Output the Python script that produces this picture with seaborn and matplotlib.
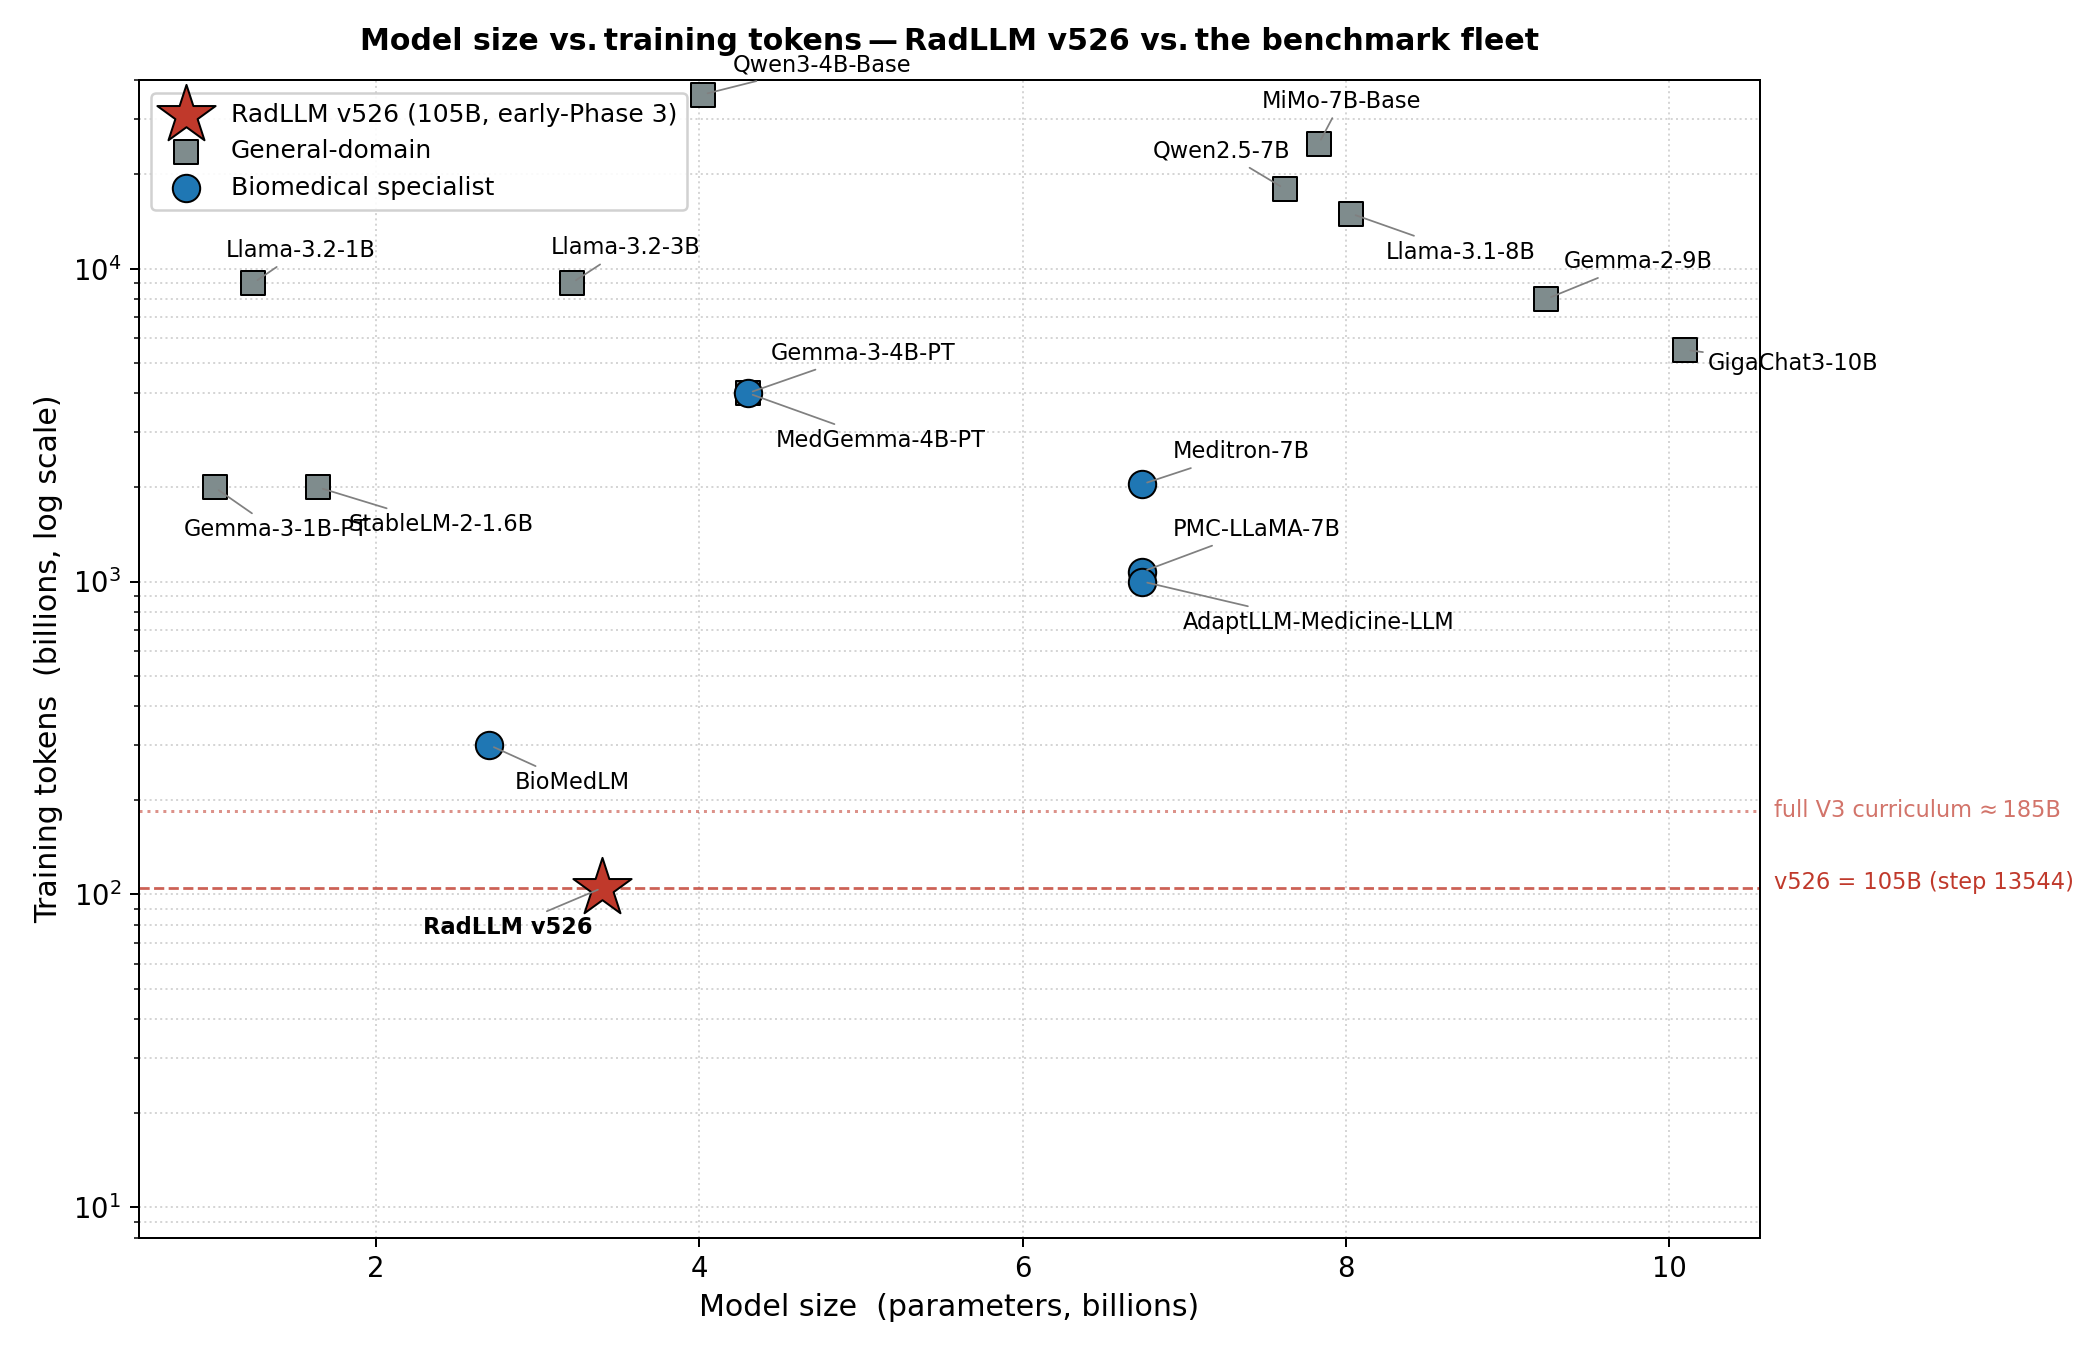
import matplotlib
matplotlib.use("Agg")
import matplotlib.pyplot as plt
import matplotlib.transforms as mtransforms
import seaborn as sns
import pandas as pd

# models: name, params (B), training tokens (B), group
names = ["Qwen3-4B-Base", "Llama-3.2-1B", "Llama-3.2-3B", "Gemma-3-4B-PT", "Gemma-3-1B-PT",
         "StableLM-2-1.6B", "Qwen2.5-7B", "MiMo-7B-Base", "Llama-3.1-8B", "Gemma-2-9B",
         "GigaChat3-10B",
         "MedGemma-4B-PT", "BioMedLM", "Meditron-7B", "PMC-LLaMA-7B", "AdaptLLM-Medicine-LLM",
         "RadLLM v526"]
params = [4.02, 1.24, 3.21, 4.3, 1.0,
          1.64, 7.62, 7.83, 8.03, 9.24,
          10.1,
          4.3, 2.7, 6.74, 6.74, 6.74,
          3.4]
tokens = [36000, 9000, 9000, 4000, 2000,
          2000, 18000, 25000, 15000, 8000,
          5500,
          4000, 300, 2048, 1075, 1000,
          105]
groups = ["general"] * 11 + ["bio"] * 5 + ["ours"]

# label offsets (points) and alignment
offsets = [(12, 12), (-11, 13), (-8.5, 14), (9, 16), (-12.5, -17),
           (12, -15), (2.5, 15), (9, 17), (14, -15.5), (7, 15),
           (9, -5.5),
           (11, -19), (10, -15), (12, 13), (12, 17), (16, -16.5),
           (-4, -16)]
aligns = ["left", "left", "left", "left", "left",
          "left", "right", "center", "left", "left",
          "left",
          "left", "left", "left", "left", "left",
          "right"]

v526_tokens = 105
full_curriculum = 185

df = pd.DataFrame({"name": names, "params": params, "tokens": tokens, "group": groups})

fig, ax = plt.subplots(figsize=(2100 / 180, 1360 / 180), dpi=180)
fig.subplots_adjust(left=0.066, right=0.838, top=0.941, bottom=0.09)

gen = df[df.group == "general"]
bio = df[df.group == "bio"]
ours = df[df.group == "ours"]

sns.scatterplot(data=ours, x="params", y="tokens", marker="*", s=600, color="#c0392b",
                edgecolor="black", linewidth=0.8, label="RadLLM v526 (105B, early-Phase 3)",
                ax=ax, zorder=5)
sns.scatterplot(data=gen, x="params", y="tokens", marker="s", s=90, color="#7f8c8d",
                edgecolor="black", linewidth=0.8, label="General-domain", ax=ax, zorder=3)
sns.scatterplot(data=bio, x="params", y="tokens", marker="o", s=120, color="#1f77b4",
                edgecolor="black", linewidth=0.8, label="Biomedical specialist", ax=ax, zorder=4)

for n, x, y, off, ha in zip(names, params, tokens, offsets, aligns):
    ax.annotate(n, (x, y), xytext=off, textcoords="offset points", ha=ha, va="center",
                fontsize=9, fontweight="bold" if n == "RadLLM v526" else "normal",
                arrowprops=dict(arrowstyle="-", color="gray", lw=0.7, shrinkA=0, shrinkB=2),
                zorder=6)

ax.axhline(v526_tokens, color="#c0392b", ls="--", lw=1.1, alpha=0.8, zorder=1)
ax.axhline(full_curriculum, color="#c0392b", ls=":", lw=1.2, alpha=0.55, zorder=1)
trans = mtransforms.blended_transform_factory(ax.transAxes, ax.transData)
ax.text(1.009, v526_tokens * 1.04, "v526 = 105B (step 13544)", transform=trans,
        color="#c0392b", fontsize=9, va="center", ha="left")
ax.text(1.009, full_curriculum, "full V3 curriculum \u2248\u2009185B", transform=trans,
        color="#c0392b", alpha=0.7, fontsize=9, va="center", ha="left")

ax.set_yscale("log")
ax.set_xlim(0.53, 10.56)
ax.set_ylim(8, 40000)
ax.grid(which="both", ls=":", color="#d5d5d5", lw=0.8)
ax.set_axisbelow(True)

ax.set_xlabel("Model size  (parameters, billions)", fontsize=12)
ax.set_ylabel("Training tokens  (billions, log scale)", fontsize=12)
ax.tick_params(labelsize=11)
ax.set_title("Model size vs.\u2009training tokens\u2009\u2014\u2009RadLLM v526 vs.\u2009the benchmark fleet",
             fontsize=12, fontweight="bold", pad=12)

leg = ax.legend(loc="upper left", fontsize=10, framealpha=0.9)

fig.savefig("out.png", dpi=180)
